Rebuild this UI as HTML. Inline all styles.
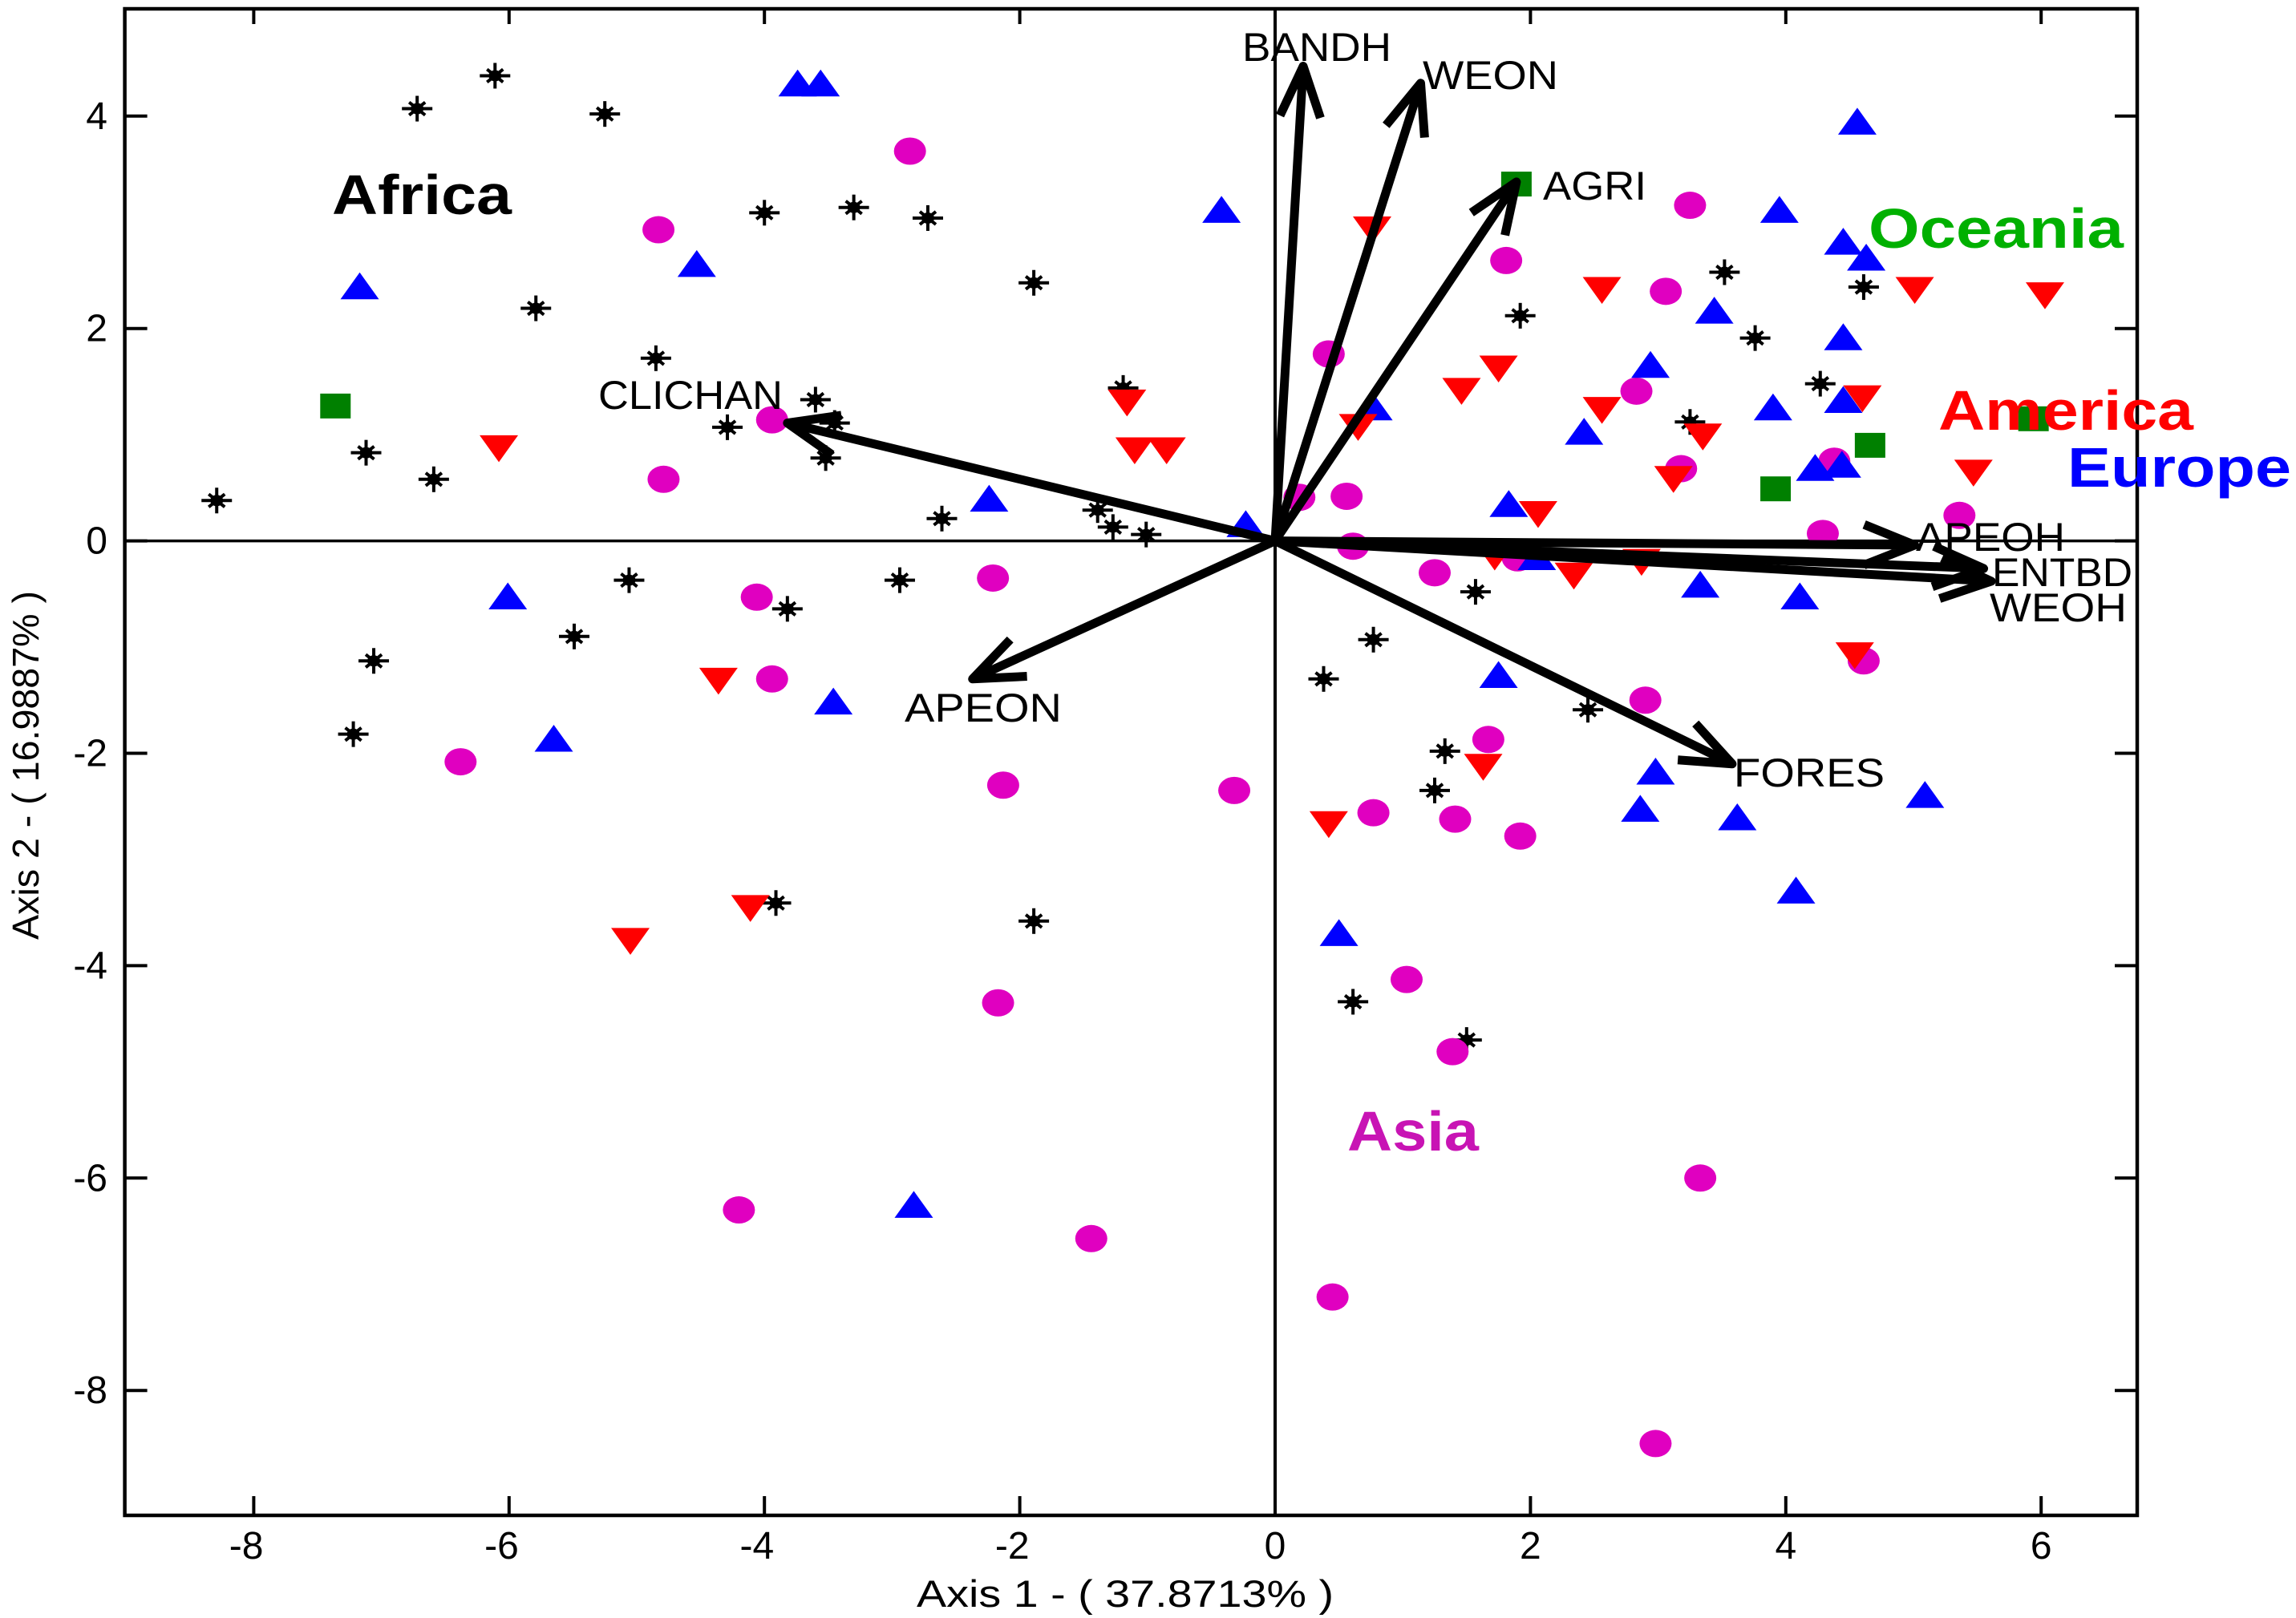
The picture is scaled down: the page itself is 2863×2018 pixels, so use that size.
<!DOCTYPE html>
<html>
<head>
<meta charset="utf-8">
<title>Biplot</title>
<style>
html,body{margin:0;padding:0;background:#fff;}
svg{display:block;}
text{font-family:"Liberation Sans",sans-serif;}
.var{font-size:50px;fill:#000;}
.region{font-size:70px;font-weight:bold;}
.tick{font-size:48px;fill:#000;}
</style>
</head>
<body>
<svg id="chart" xmlns="http://www.w3.org/2000/svg" width="2863" height="2018" viewBox="0 0 2863 2018">
<rect width="2863" height="2018" fill="#fff"/>
<g id="axes"></g>
<g id="marks"></g>
<g id="arrows"></g>
<g>
<text class="var" x="1549" y="76" textLength="186" lengthAdjust="spacingAndGlyphs">BANDH</text>
<text class="var" x="1774" y="111" textLength="169" lengthAdjust="spacingAndGlyphs">WEON</text>
<text class="var" x="1924" y="249" textLength="129" lengthAdjust="spacingAndGlyphs">AGRI</text>
<text class="var" x="746" y="510" textLength="230" lengthAdjust="spacingAndGlyphs">CLICHAN</text>
<text class="var" x="2389" y="687" textLength="186" lengthAdjust="spacingAndGlyphs">APEOH</text>
<text class="var" x="2484" y="731" textLength="175" lengthAdjust="spacingAndGlyphs">ENTBD</text>
<text class="var" x="2481" y="775" textLength="171" lengthAdjust="spacingAndGlyphs">WEOH</text>
<text class="var" x="2162" y="981" textLength="188" lengthAdjust="spacingAndGlyphs">FORES</text>
<text class="var" x="1128" y="900" textLength="196" lengthAdjust="spacingAndGlyphs">APEON</text>
</g>
<g>
<text class="region" x="414" y="267" textLength="224" lengthAdjust="spacingAndGlyphs" fill="#000">Africa</text>
<text class="region" x="2330" y="309" textLength="318" lengthAdjust="spacingAndGlyphs" fill="#00b000">Oceania</text>
<text class="region" x="2417" y="536" textLength="318" lengthAdjust="spacingAndGlyphs" fill="#ff0000">America</text>
<text class="region" x="2578" y="607" textLength="279" lengthAdjust="spacingAndGlyphs" fill="#0000ff">Europe</text>
<text class="region" x="1680" y="1435" textLength="164" lengthAdjust="spacingAndGlyphs" fill="#c814b4">Asia</text>
</g>
<text class="tick" x="1143" y="2004" textLength="520" lengthAdjust="spacingAndGlyphs" style="font-size:47px">Axis 1 - ( 37.8713% )</text>
<text class="tick" transform="translate(48,1172) rotate(-90)" textLength="435" lengthAdjust="spacingAndGlyphs" style="font-size:46px">Axis 2 - ( 16.9887% )</text>
</svg>
<script>
var xTicks = [-8, -6, -4, -2, 0, 2, 4, 6];
var yTicks = [4, 2, 0, -2, -4, -6, -8];

var africaX = [-6.11,-6.72,-5.25,-4.0,-3.30,-2.72,-1.89,-5.79,-4.85,-1.19,-3.60,-4.29,-3.45,-3.52,-7.12,-6.59,-8.29,-2.61,-1.39,-1.27,-1.01,-5.06,-2.94,-3.82,-5.49,-7.06,-7.22,-3.91,-1.89,3.52,4.61,1.92,3.76,4.27,3.25,1.57,0.77,0.38,2.45,1.33,1.25,0.61,1.50];
var africaY = [4.38,4.07,4.02,3.09,3.14,3.04,2.43,2.19,1.72,1.44,1.33,1.07,1.11,0.78,0.83,0.58,0.38,0.21,0.29,0.13,0.06,-0.37,-0.37,-0.64,-0.90,-1.13,-1.82,-3.41,-3.58,2.53,2.39,2.12,1.91,1.48,1.12,-0.48,-0.93,-1.30,-1.59,-1.98,-2.35,-4.34,-4.70];

var asiaX = [-2.86,-4.83,3.25,1.81,3.06,0.42,2.83,-3.94,-4.79,3.18,4.38,0.56,0.19,5.36,4.29,0.61,1.25,1.90,-2.21,-4.06,-3.94,4.61,2.90,1.67,-6.38,-2.13,-0.32,0.77,1.41,1.92,-2.17,1.03,1.39,3.33,-4.20,-1.44,0.45,2.98];
var asiaY = [3.67,2.93,3.16,2.64,2.35,1.76,1.41,1.14,0.58,0.68,0.75,0.42,0.41,0.24,0.07,-0.05,-0.30,-0.16,-0.35,-0.53,-1.30,-1.13,-1.50,-1.87,-2.08,-2.30,-2.35,-2.56,-2.62,-2.78,-4.35,-4.13,-4.81,-6.0,-6.30,-6.57,-7.12,-8.50];

var europeX = [-3.74,-3.56,4.56,-0.42,3.95,-4.53,4.45,4.63,-7.17,3.44,4.45,2.94,3.90,0.77,4.45,2.42,4.23,4.44,1.83,-2.24,-0.23,-6.01,2.05,3.33,4.11,-3.46,-5.65,1.75,2.98,5.09,2.86,3.62,4.08,0.50,-2.83];
var europeY = [4.31,4.31,3.95,3.12,3.12,2.61,2.82,2.67,2.40,2.17,1.92,1.66,1.26,1.26,1.33,1.03,0.69,0.72,0.35,0.40,0.16,-0.52,-0.15,-0.41,-0.52,-1.51,-1.86,-1.26,-2.17,-2.39,-2.52,-2.60,-3.29,-3.69,-6.25];

var americaX = [0.76,2.56,5.01,6.03,1.75,1.46,-1.16,2.56,4.60,3.35,-6.08,-1.10,-0.85,0.65,3.12,5.47,2.06,1.72,2.34,2.87,4.54,-4.36,1.63,0.42,-4.11,-5.05];
var americaY = [2.93,2.36,2.36,2.31,1.62,1.41,1.30,1.23,1.34,0.98,0.87,0.85,0.85,1.07,0.58,0.64,0.25,-0.15,-0.33,-0.20,-1.08,-1.32,-2.13,-2.67,-3.46,-3.77];

var oceaniaX = [-7.36,1.89,4.66,3.92,5.94];
var oceaniaY = [1.27,3.36,0.90,0.49,1.15];

var loadingNames = ["BANDH","WEON","AGRI","APEOH","ENTBD","WEOH","FORES","APEON","CLICHAN"];
var loadingX = [0.22,1.14,1.89,5.01,5.55,5.61,3.58,-2.37,-3.82];
var loadingY = [4.47,4.31,3.38,-0.04,-0.26,-0.38,-2.10,-1.30,1.11];

var NS = "http://www.w3.org/2000/svg";
var plotL = 155.6, plotR = 2665, plotT = 11, plotB = 1890;
function xScale(v) { return 1590 + v * 159.2; }
function yScale(v) { return 674.6 - v * 132.45; }

function make(tag, parent, attrs) {
  var el = document.createElementNS(NS, tag);
  for (var k in attrs) el.setAttribute(k, attrs[k]);
  parent.appendChild(el);
  return el;
}

var axes = document.getElementById("axes");
var marks = document.getElementById("marks");
var arrows = document.getElementById("arrows");

/* zero lines */
var zeroV = make("line", axes, {x1:xScale(0), x2:xScale(0), y1:plotT, y2:plotB, stroke:"#000", "stroke-width":4});


var zeroH = make("line", axes, {x1:plotL, x2:plotR, y1:yScale(0), y2:yScale(0), stroke:"#000", "stroke-width":3.5});



/* ticks */
xTicks.forEach(function (t) {
  var x = xScale(t);
  var bt = make("line", axes, {x1:x, x2:x, y1:plotB, y2:plotB - 24, stroke:"#000", "stroke-width":4});
  
  
  var tt = make("line", axes, {x1:x, x2:x, y1:plotT, y2:plotT + 19, stroke:"#000", "stroke-width":4});
  
  
  var lab = make("text", axes, {"class":"tick", x: t < 0 ? x + 12 : x, y:1944, "text-anchor": t < 0 ? "end" : "middle"});
  
  
  lab.textContent = String(t);
});
yTicks.forEach(function (t) {
  var y = yScale(t);
  var lt = make("line", axes, {x1:plotL, x2:plotL + 28, y1:y, y2:y, stroke:"#000", "stroke-width":4});
  
  
  var rt = make("line", axes, {x1:plotR, x2:plotR - 28, y1:y, y2:y, stroke:"#000", "stroke-width":4});
  
  
  var lab = make("text", axes, {"class":"tick", x:134, y:y + 16, "text-anchor":"end"});
  
  
  lab.textContent = String(t);
});

/* frame */
var frame = make("rect", axes, {x:plotL, y:plotT, width:plotR - plotL, height:plotB - plotT, fill:"none", stroke:"#000", "stroke-width":4.5});



/* marker drawing */
function drawStar(cx, cy) {
  var g = make("g", marks, {stroke:"#000", "stroke-width":4, fill:"#000"});
  
  
  make("line", g, {x1:cx - 19, x2:cx + 19, y1:cy, y2:cy});
  make("line", g, {x1:cx, x2:cx, y1:cy - 16, y2:cy + 16});
  make("line", g, {x1:cx - 10, x2:cx + 10, y1:cy - 8, y2:cy + 8});
  make("line", g, {x1:cx - 10, x2:cx + 10, y1:cy + 8, y2:cy - 8});
  make("ellipse", g, {cx:cx, cy:cy, rx:6, ry:5});
}
function drawCircle(cx, cy) {
  var el = make("ellipse", marks, {cx:cx, cy:cy, rx:20, ry:17, fill:"#e000c0"});
  
  
}
function drawUp(cx, cy) {
  var el = make("polygon", marks, {points:(cx - 24) + "," + (cy + 16.5) + " " + (cx + 24) + "," + (cy + 16.5) + " " + cx + "," + (cy - 17), fill:"#0000ff"});
  
  
}
function drawDown(cx, cy) {
  var el = make("polygon", marks, {points:(cx - 24) + "," + (cy - 16.5) + " " + (cx + 24) + "," + (cy - 16.5) + " " + cx + "," + (cy + 17), fill:"#ff0000"});
  
  
}
function drawSquare(cx, cy) {
  var el = make("rect", marks, {x:cx - 19, y:cy - 15.5, width:38, height:31, fill:"#008000"});
  
  
}
function drawSeries(xs, ys, fn) {
  for (var i = 0; i < xs.length; i++) fn(xScale(xs[i]), yScale(ys[i]));
}
drawSeries(africaX, africaY, drawStar);
drawSeries(asiaX, asiaY, drawCircle);
drawSeries(europeX, europeY, drawUp);
drawSeries(americaX, americaY, drawDown);
drawSeries(oceaniaX, oceaniaY, drawSquare);

/* loading arrows */
loadingNames.forEach(function (name, i) {
  var x0 = xScale(0), y0 = yScale(0), x1 = xScale(loadingX[i]), y1 = yScale(loadingY[i]);
  var ang = Math.atan2(y0 - y1, x0 - x1);
  var barb = 68, spread = 0.38;
  var ax = x1 + barb * Math.cos(ang + spread), ay = y1 + barb * Math.sin(ang + spread);
  var bx = x1 + barb * Math.cos(ang - spread), by = y1 + barb * Math.sin(ang - spread);
  var d = "M" + x0 + " " + y0 + "L" + x1 + " " + y1 + "M" + ax + " " + ay + "L" + x1 + " " + y1 + "L" + bx + " " + by;
  var el = make("path", arrows, {d:d, fill:"none", stroke:"#000", "stroke-width":11, "stroke-linejoin":"round"});
  
  
});
</script>
</body>
</html>
